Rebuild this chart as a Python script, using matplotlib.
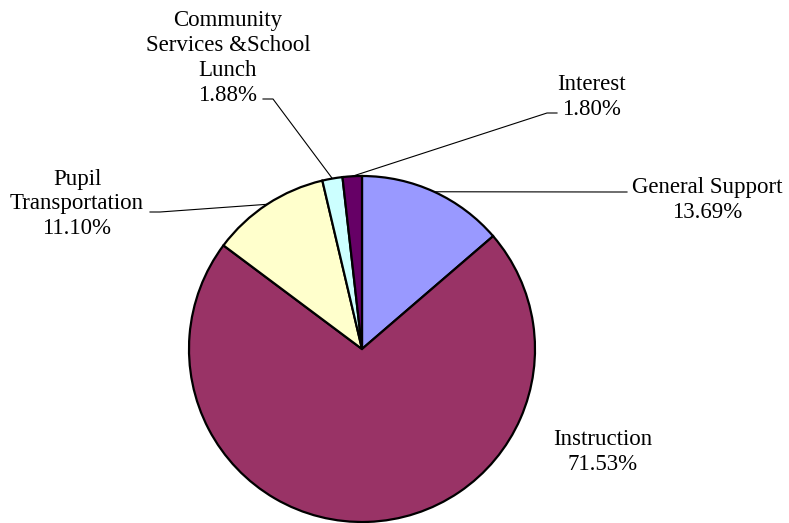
import numpy as np
import matplotlib
matplotlib.use("Agg")
import matplotlib.pyplot as plt

W, H = 789, 523

labels = ["General Support", "Instruction", "Pupil\nTransportation",
          "Community\nServices &School\nLunch", "Interest"]
shares = [13.69, 71.53, 11.10, 1.88, 1.80]
colors = ["#9999FF", "#993366", "#FFFFCC", "#CCFFFF", "#660066"]

# label centre (px, top-left origin) and leader line elbow points
text_pos = [(707, 200), (603, 452), (77, 204), (228, 58), (591, 97)]
leaders = [
    [(612, 192), (627, 192)],
    None,
    [(160, 212), (150, 212)],
    [(273, 99), (263, 99)],
    [(547, 113), (557, 113)],
]

plt.rcParams['font.family'] = ['Liberation Serif', 'DejaVu Serif']

fig = plt.figure(figsize=(W / 100, H / 100), dpi=100)
ax = fig.add_axes([0, 0, 1, 1])

cx, cy, r = 362, H - 349, 173
wedges, _ = ax.pie(shares, colors=colors, startangle=90, counterclock=False,
                   center=(cx, cy), radius=r,
                   wedgeprops=dict(edgecolor='black', linewidth=1.6))

for w, lab, val, tp, ld in zip(wedges, labels, shares, text_pos, leaders):
    ax.text(tp[0], H - tp[1], f"{lab}\n{val:.2f}%", ha='center', va='center',
            fontsize=16.5, linespacing=1.25)
    if ld is None:
        continue
    mid = np.deg2rad((w.theta1 + w.theta2) / 2)
    ex, ey = cx + r * np.cos(mid), cy + r * np.sin(mid)
    xs = [ex] + [p[0] for p in ld]
    ys = [ey] + [H - p[1] for p in ld]
    ax.plot(xs, ys, color='black', linewidth=0.8, zorder=0.5)

ax.set_xlim(0, W)
ax.set_ylim(0, H)
ax.set_aspect('equal')
ax.axis('off')

fig.savefig("out.png", dpi=100)
